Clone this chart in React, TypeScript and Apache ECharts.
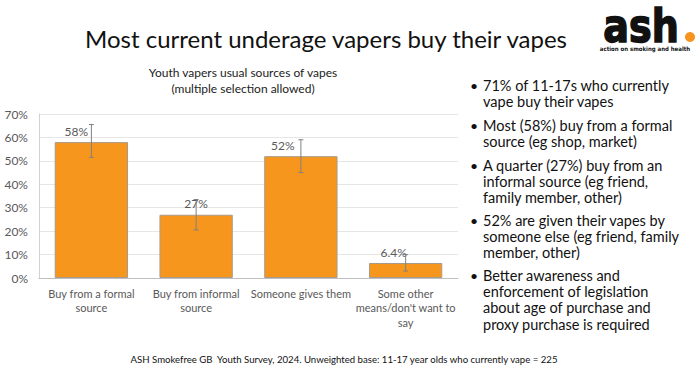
import React, { useEffect, useRef } from "react";
import * as echarts from "echarts";

const categories = [
  "Buy from a formal\nsource",
  "Buy from informal\nsource",
  "Someone gives them",
  "Some other\nmeans/don't want to\nsay",
];
const shares = [58, 27, 52, 6.4];
const errorLow = [51.5, 20.5, 45, 3];
const errorHigh = [65.5, 33.5, 59, 10];
const yTicks = { min: 0, max: 70, interval: 10 };

const title = "Most current underage vapers buy their vapes";
const chartTitle = "Youth vapers usual sources of vapes\n(multiple selection allowed)";
const bullets = [
  "71% of 11-17s who currently\nvape buy their vapes",
  "Most (58%) buy from a formal\nsource (eg shop, market)",
  "A quarter (27%) buy from an\ninformal source (eg friend,\nfamily member, other)",
  "52% are given their vapes by\nsomeone else (eg friend, family\nmember, other)",
  "Better awareness and\nenforcement of legislation\nabout age of purchase and\nproxy purchase is required",
];
const footer =
  "ASH Smokefree GB  Youth Survey, 2024. Unweighted base: 11-17 year olds who currently vape = 225";

const labelDx = [-15, 0, -18, -12];
const bulletTops = [77, 117, 157, 212, 267];
const FONT = "Lato, 'Open Sans', sans-serif";

export default function App() {
  const ref = useRef<HTMLDivElement>(null);
  useEffect(() => {
    const chart = echarts.init(ref.current!, null, { renderer: "svg" });
    const lh = 16.3;
    const graphics: any[] = [
      {
        type: "text",
        x: 326,
        y: 38,
        style: {
          text: title,
          font: `24px ${FONT}`,
          fill: "#111",
          textAlign: "center",
          textVerticalAlign: "middle",
        },
      },
      {
        type: "text",
        x: 243,
        y: 64,
        style: {
          text: chartTitle,
          font: `12px ${FONT}`,
          fill: "#222",
          textAlign: "center",
          textVerticalAlign: "top",
          lineHeight: 16,
        },
      },
      {
        type: "text",
        x: 344,
        y: 359,
        style: {
          text: footer,
          font: `9.6px ${FONT}`,
          fill: "#111",
          textAlign: "center",
          textVerticalAlign: "middle",
        },
      },
      // logo
      {
        type: "text",
        x: 641,
        y: 49,
        scaleX: 0.92,
        style: {
          text: "ash",
          font: `bold 46px 'DejaVu Sans Condensed', 'Liberation Sans Narrow', sans-serif`,
          fill: "#111",
          stroke: "#111",
          lineWidth: 1.5,
          textAlign: "center",
          textVerticalAlign: "bottom",
        },
      },
      { type: "circle", shape: { cx: 690, cy: 37, r: 5 }, style: { fill: "#F7941D" } },
      {
        type: "text",
        x: 645,
        y: 48,
        style: {
          text: "action on smoking and health",
          font: `bold 6px 'Liberation Sans Narrow', 'DejaVu Sans Condensed', sans-serif`,
          fill: "#111",
          textAlign: "center",
          textVerticalAlign: "middle",
        },
      },
    ];
    bullets.forEach((b, i) => {
      graphics.push({
        type: "text",
        x: 470,
        y: bulletTops[i],
        style: {
          text: "•",
          font: `14px ${FONT}`,
          fill: "#111",
          textVerticalAlign: "top",
          lineHeight: lh,
        },
      });
      graphics.push({
        type: "text",
        x: 483,
        y: bulletTops[i],
        style: {
          text: b,
          font: `14.5px ${FONT}`,
          fill: "#111",
          textVerticalAlign: "top",
          lineHeight: lh,
        },
      });
    });

    chart.setOption({
      animation: false,
      backgroundColor: "#fff",
      grid: { left: 39, right: 242, top: 114, bottom: 95 },
      xAxis: {
        type: "category",
        data: categories,
        axisLine: { lineStyle: { color: "#bfbfbf" } },
        axisTick: { show: false },
        axisLabel: {
          color: "#595959",
          fontFamily: FONT,
          fontSize: 11,
          lineHeight: 14.5,
          margin: 8,
          interval: 0,
        },
      },
      yAxis: {
        type: "value",
        min: yTicks.min,
        max: yTicks.max,
        interval: yTicks.interval,
        axisLine: { show: true, lineStyle: { color: "#d0d0d0" } },
        axisLabel: {
          formatter: "{value}%",
          color: "#595959",
          fontFamily: FONT,
          fontSize: 12,
          margin: 11,
        },
        splitLine: { lineStyle: { color: "#e6e6e6" } },
      },
      series: [
        {
          type: "bar",
          data: shares.map((v, i) => ({
            value: v,
            label: { offset: [labelDx[i], 0] },
          })),
          barWidth: "70%",
          itemStyle: { color: "#F7961D", borderColor: "#a89a8a", borderWidth: 1 },
          label: {
            show: true,
            position: "top",
            distance: 5,
            formatter: (p: any) => `${p.value}%`,
            color: "#595959",
            fontFamily: FONT,
            fontSize: 12,
          },
        },
        {
          type: "custom",
          data: shares.map((_, i) => [i, errorLow[i], errorHigh[i]]),
          renderItem: (params: any, api: any) => {
            const x = api.value(0);
            const lo = api.coord([x, api.value(1)]);
            const hi = api.coord([x, api.value(2)]);
            const s = { stroke: "#808080", lineWidth: 1 };
            const c = 2.5;
            return {
              type: "group",
              children: [
                { type: "line", shape: { x1: lo[0], y1: lo[1], x2: hi[0], y2: hi[1] }, style: s },
                { type: "line", shape: { x1: hi[0] - c, y1: hi[1], x2: hi[0] + c, y2: hi[1] }, style: s },
                { type: "line", shape: { x1: lo[0] - c, y1: lo[1], x2: lo[0] + c, y2: lo[1] }, style: s },
              ],
            };
          },
          z: 5,
        },
      ],
      graphic: graphics,
    });
    return () => chart.dispose();
  }, []);
  return (
    <div
      ref={ref}
      style={{ position: "fixed", left: 0, top: 0, width: 700, height: 373, background: "#fff" }}
    />
  );
}
